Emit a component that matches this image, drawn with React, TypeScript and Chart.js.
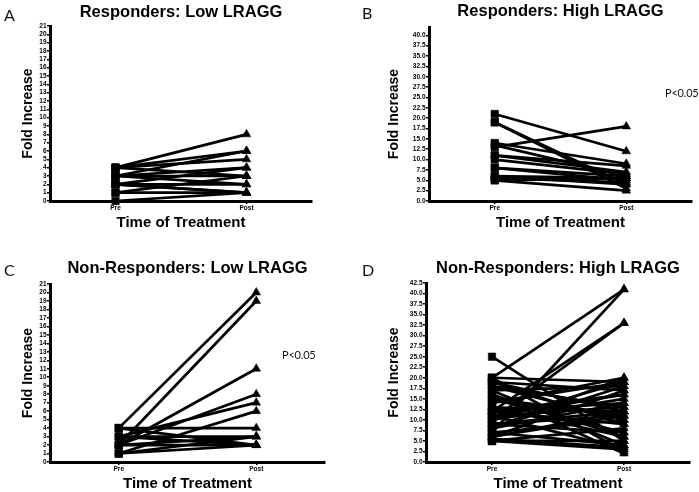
import React, { useEffect, useRef } from 'react';
import { Chart, registerables } from 'chart.js';

Chart.register(...registerables);

const categories = ['Pre', 'Post'];

// Panel A: Responders, Low LRAGG
const preA = [4, 4, 3, 4, 3, 2, 3, 4, 2, 1, 2, 3, 1, 0, 2];
const postA = [8, 6, 6, 5, 4, 4, 3, 3, 2, 3, 1, 2, 1, 1, 1];

// Panel B: Responders, High LRAGG
const preB = [21, 19, 19, 13, 14, 13.5, 11, 11, 10, 8, 8, 6, 5.5, 5, 5, 6];
const postB = [12, 3, 4, 18, 9, 6, 8.5, 7, 6.5, 6, 5, 5.5, 4.5, 2.5, 5.5, 4];

// Panel C: Non-Responders, Low LRAGG
const preC = [4, 2, 2, 2, 3, 1, 4, 3, 1, 2, 4, 3, 1, 2];
const postC = [20, 19, 11, 8, 7, 6, 4, 3, 3, 2, 2, 2, 2, 3];

// Panel D: Non-Responders, High LRAGG
const preD = [20, 7, 10, 12, 25, 20, 19, 19, 18, 17, 16, 15, 14, 13, 12, 12, 11, 11, 10, 10, 9, 9, 8, 8, 7, 7, 6, 6, 5, 5, 5, 20, 18, 16, 14, 13, 11, 9, 8, 6, 5.5, 15, 17, 19, 12];
const postD = [41, 41, 33, 33, 5, 19, 12, 17, 10, 18, 2, 11, 20, 6, 16, 9, 13, 3, 19, 15, 12, 7, 18, 14, 10, 4, 17, 11, 8, 5, 3, 2.5, 13, 6, 19, 12, 16, 11, 20, 12, 3.5, 7, 4, 9, 14];

const titles = ['Responders: Low LRAGG', 'Responders: High LRAGG', 'Non-Responders: Low LRAGG', 'Non-Responders: High LRAGG'];
const yTitle = 'Fold Increase';
const xTitle = 'Time of Treatment';

const SANS = '"Liberation Sans", Arial, sans-serif';

type Box = { left: number; top: number; width: number; height: number };
type Area = { l: number; t: number; r: number; b: number };
type PanelCfg = {
  title: string;
  pre: number[];
  post: number[];
  box: Box;
  area: Area;
  yMax: number;
  yStep: number;
  decimals: number;
  titleY: number;
  xTitleY: number;
  yTitleX: number;
};

const panels: PanelCfg[] = [
  { title: titles[0], pre: preA, post: postA, box: { left: 0, top: 0, width: 349, height: 240 }, area: { l: 50, t: 26, r: 312, b: 201 }, yMax: 21, yStep: 1, decimals: 0, titleY: 12, xTitleY: 222.5, yTitleX: 28 },
  { title: titles[1], pre: preB, post: postB, box: { left: 350, top: 0, width: 349, height: 240 }, area: { l: 429, t: 27, r: 692, b: 201 }, yMax: 42, yStep: 2.5, decimals: 1, titleY: 11.5, xTitleY: 222.5, yTitleX: 394 },
  { title: titles[2], pre: preC, post: postC, box: { left: 0, top: 240, width: 349, height: 252 }, area: { l: 50, t: 284, r: 325, b: 462 }, yMax: 21, yStep: 1, decimals: 0, titleY: 268, xTitleY: 484, yTitleX: 28 },
  { title: titles[3], pre: preD, post: postD, box: { left: 350, top: 240, width: 349, height: 252 }, area: { l: 426, t: 283, r: 690, b: 462 }, yMax: 42.5, yStep: 2.5, decimals: 1, titleY: 268, xTitleY: 483.5, yTitleX: 394 },
];

function Panel({ p }: { p: PanelCfg }) {
  const ref = useRef<HTMLCanvasElement>(null);
  useEffect(() => {
    if (!ref.current) return;
    const { box, area } = p;
    const titleLH = 16.5 * 1.2;
    const titlePadTop = p.titleY - box.top - titleLH / 2;
    const titlePadBottom = area.t - box.top - titlePadTop - titleLH;
    const xScaleH = box.top + box.height - area.b;
    const yScaleW = area.l - box.left;
    const datasets = p.pre.map((v, i) => ({
      data: [v, p.post[i]],
      borderColor: '#000',
      backgroundColor: '#000',
      borderWidth: 2.7,
      pointStyle: ['rect', 'triangle'],
      pointRadius: [5.3, 5],
      pointBorderWidth: 0.5,
      clip: false as any,
      tension: 0,
    }));
    const chart = new Chart(ref.current, {
      type: 'line',
      data: { labels: categories, datasets: datasets as any },
      options: {
        animation: false,
        responsive: false,
        events: [],
        layout: { padding: { left: 0, top: 0, bottom: 0, right: box.left + box.width - area.r } },
        plugins: {
          legend: { display: false },
          tooltip: { enabled: false },
          title: {
            display: true,
            text: p.title,
            fullSize: false,
            color: '#000',
            font: { family: SANS, size: 16.5, weight: 'bold', lineHeight: 1.2 },
            padding: { top: titlePadTop, bottom: titlePadBottom },
          },
        },
        scales: {
          x: {
            type: 'category',
            offset: true,
            grid: { display: true, offset: false, drawOnChartArea: false, drawTicks: true, tickLength: 3, color: '#000', lineWidth: 1.5 },
            border: { display: true, color: '#000', width: 3 },
            ticks: { color: '#000', padding: 0, maxRotation: 0, autoSkip: false, font: { family: SANS, size: 6.5, weight: 'bold' } },
            title: {
              display: true,
              text: xTitle,
              color: '#000',
              font: { family: SANS, size: 15, weight: 'bold', lineHeight: 1 },
              padding: { top: 0, bottom: box.height - (p.xTitleY - box.top) - 7.5 },
            },
            afterFit: (s: any) => { s.height = xScaleH; },
          },
          y: {
            type: 'linear',
            min: 0,
            max: p.yMax,
            grid: { display: true, drawOnChartArea: false, drawTicks: true, tickLength: 3, color: '#000', lineWidth: 1.5 },
            border: { display: true, color: '#000', width: 3 },
            ticks: {
              stepSize: p.yStep,
              autoSkip: false,
              color: '#000',
              padding: 0.5,
              font: { family: SANS, size: 6.5, weight: 'bold' },
              callback: (v: any) => Number(v).toFixed(p.decimals),
            },
            afterBuildTicks: (s: any) => {
              s.ticks = s.ticks.filter((t: any) => Math.abs(t.value / p.yStep - Math.round(t.value / p.yStep)) < 1e-6);
            },
            title: {
              display: true,
              text: yTitle,
              color: '#000',
              font: { family: SANS, size: 14, weight: 'bold', lineHeight: 1 },
              padding: { top: p.yTitleX - box.left - 7, bottom: 0 },
            },
            afterFit: (s: any) => { s.width = yScaleW; },
          },
        },
      } as any,
    });
    return () => chart.destroy();
  }, [p]);
  return (
    <canvas
      ref={ref}
      width={p.box.width}
      height={p.box.height}
      style={{ position: 'absolute', left: p.box.left, top: p.box.top, width: p.box.width, height: p.box.height }}
    />
  );
}

const letterStyle: React.CSSProperties = {
  position: 'absolute',
  fontFamily: 'Lato, "Open Sans", sans-serif',
  fontSize: 16,
  lineHeight: '16px',
  color: '#111',
};

const pStyle: React.CSSProperties = {
  position: 'absolute',
  fontFamily: 'Lato, "Open Sans", sans-serif',
  fontSize: 11,
  lineHeight: '11px',
  letterSpacing: '-0.2px',
  color: '#111',
  whiteSpace: 'nowrap',
};

export default function App() {
  return (
    <div style={{ position: 'absolute', left: 0, top: 0, width: 699, height: 492, background: '#fff', overflow: 'hidden' }}>
      {panels.map((p, i) => (
        <Panel key={i} p={p} />
      ))}
      <div style={{ ...letterStyle, left: 4, top: 7 }}>A</div>
      <div style={{ ...letterStyle, left: 362, top: 5 }}>B</div>
      <div style={{ ...letterStyle, left: 4, top: 262 }}>C</div>
      <div style={{ ...letterStyle, left: 362, top: 262 }}>D</div>
      <div style={{ ...pStyle, left: 665, top: 87 }}>P&lt;0.05</div>
      <div style={{ ...pStyle, left: 282, top: 349 }}>P&lt;0.05</div>
    </div>
  );
}
